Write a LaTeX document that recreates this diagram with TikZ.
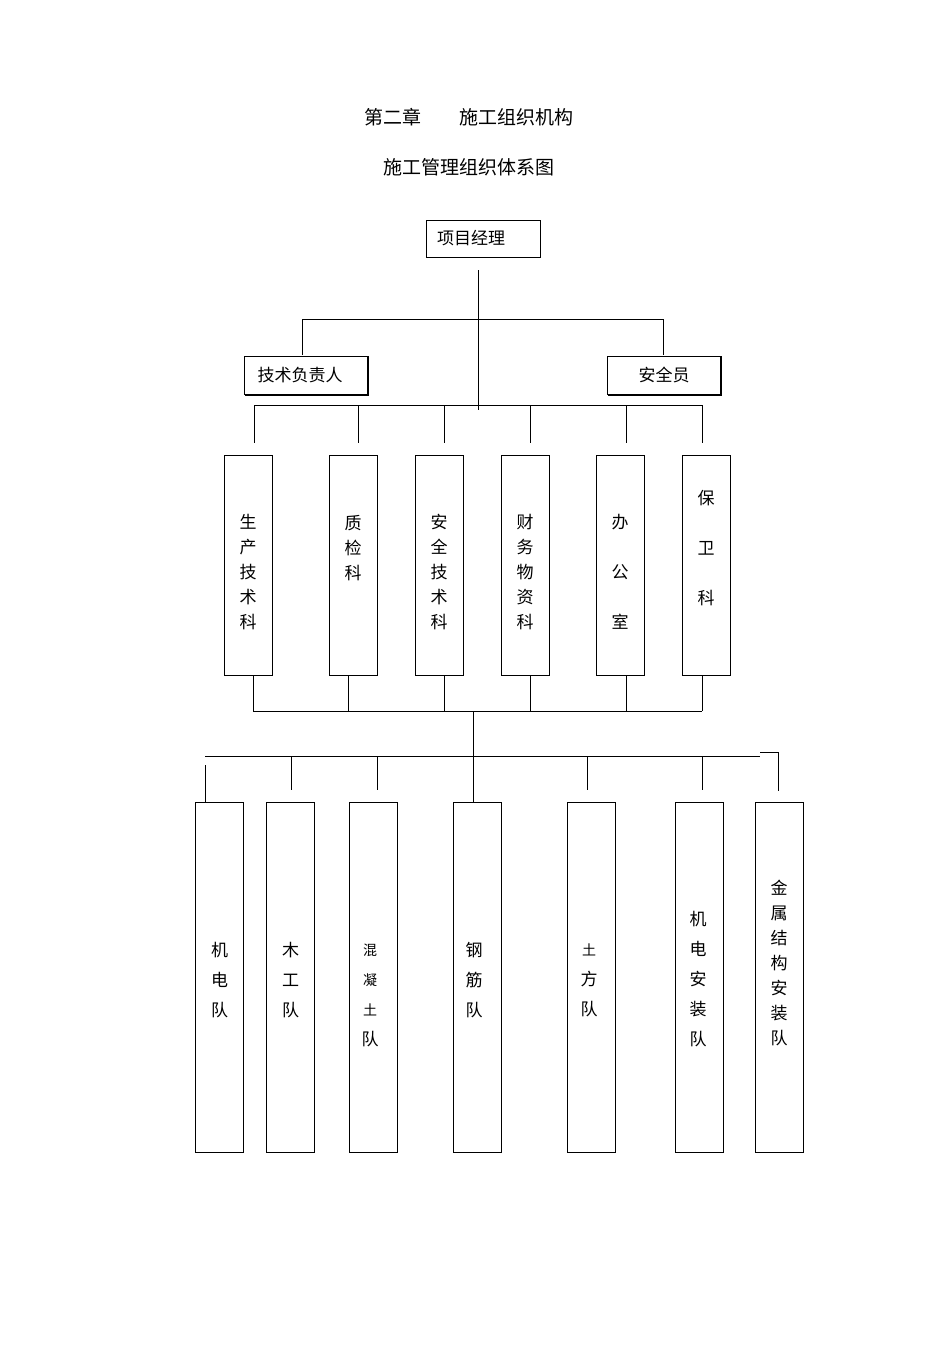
\documentclass[tikz,border=0pt]{standalone}
\usepackage{fontspec}
\setmainfont{Noto Sans CJK SC}
\newcommand{\sm}{\fontsize{14}{30}\selectfont}
\begin{document}
\begin{tikzpicture}[x=1pt,y=-1pt,
  box/.style={draw,line width=1pt,inner sep=0pt},
  txt/.style={font=\fontsize{17}{17}\selectfont,inner sep=0pt},
  vta/.style={txt,align=center,font=\fontsize{17}{25}\selectfont},
  vtb/.style={txt,align=center,font=\fontsize{17}{50}\selectfont},
  vtc/.style={txt,align=center,font=\fontsize{17}{30}\selectfont},
  col/.style={box,minimum width=48,minimum height=220},
  tall/.style={box,minimum width=48,minimum height=350},
  ln/.style={line width=1pt}]
\useasboundingbox (0,0) rectangle (950,1345);
% titles
\node[txt,font=\fontsize{19}{19}\selectfont] (t1) at (469,117) {第二章\quad\quad 施工组织机构};
\node[txt,font=\fontsize{19}{19}\selectfont] (t2) at (469,167) {施工管理组织体系图};
% top
\node[box,minimum width=114,minimum height=37] (pm) at (483,238.5) {};
\node[txt,anchor=west] at (437,238) {项目经理};
\node[box,minimum width=124,minimum height=38] (tech) at (306,375) {};
\node[txt] at (300,375) {技术负责人};
\node[box,minimum width=114,minimum height=38] (safe) at (664,375) {};
\node[txt] at (664,375) {安全员};
\draw[line width=1.6pt] (245,395)--(368,395)--(368,357);
\draw[line width=1.6pt] (608,395)--(721,395)--(721,357);
\coordinate (c1) at (478,270);
\coordinate (c2) at (478,410);
\draw[ln] (c1)--(c2);
\coordinate (ta) at (302,319);
\coordinate (sa) at (663,319);
\draw[ln] (302,355)--(ta)--(sa)--(663,355);
% row 2
\node[col] (d1) at (248,565) {};
\node[vta] at (248,572) {生\\产\\技\\术\\科};
\node[col] (d2) at (353,565) {};
\node[vta] at (353,548) {质\\检\\科};
\node[col] (d3) at (439,565) {};
\node[vta] at (439,572) {安\\全\\技\\术\\科};
\node[col] (d4) at (525,565) {};
\node[vta] at (525,572) {财\\务\\物\\资\\科};
\node[col] (d5) at (620,565) {};
\node[vtb] at (620,572) {办\\公\\室};
\node[col] (d6) at (706,565) {};
\node[vtb] at (706,548) {保\\卫\\科};
\draw[ln] (254,405)--(702,405);
\foreach \x in {254,358,444,530,626,702}{\draw[ln] (\x,405)--(\x,443);}
\foreach \x in {253,348,444,530,626,702}{\draw[ln] (\x,675)--(\x,711);}
\draw[ln] (253,711)--(702,711);
\coordinate (m1) at (473,711);
\coordinate (m2) at (473,756);
\draw[ln] (m1)--(m2);
% row 3
\node[tall] (e1) at (219.5,977) {};
\node[vtc] at (219.5,980) {机\\电\\队};
\node[tall] (e2) at (290.5,977) {};
\node[vtc] at (290.5,980) {木\\工\\队};
\node[tall] (e3) at (373,977) {};
\node[vtc] at (370,995) {\sm 混\\\sm 凝\\\sm 土\\队};
\node[tall] (e4) at (477,977) {};
\node[vtc] at (474,980) {钢\\筋\\队};
\node[tall] (e5) at (591,977) {};
\node[vtc] at (589,980) {\sm 土\\方\\队};
\node[tall] (e6) at (699,977) {};
\node[vtc] at (698,979) {机\\电\\安\\装\\队};
\node[tall] (e7) at (779,977) {};
\node[vta] at (779,963) {金\\属\\结\\构\\安\\装\\队};
\draw[ln] (205,756)--(760,756);
\draw[ln] (760,752)--(778,752)--(778,791);
\draw[ln] (205,765)--(205,802);
\foreach \x in {291,377,587,702}{\draw[ln] (\x,756)--(\x,790);}
\draw[ln] (m2)--(e4.north-|m2);
\end{tikzpicture}
\end{document}
